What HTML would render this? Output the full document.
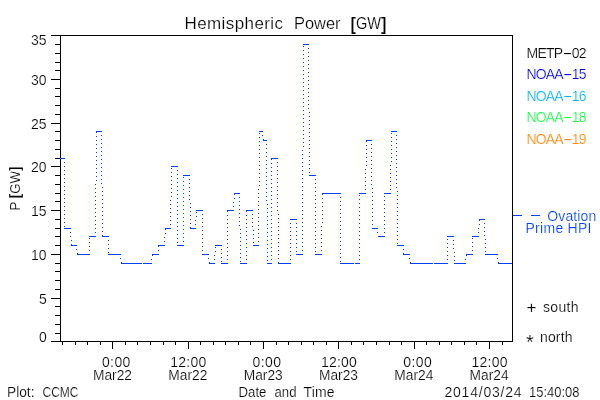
<!DOCTYPE html>
<html><head><meta charset="utf-8"><title>Hemispheric Power [GW]</title>
<style>
html,body{margin:0;padding:0;background:#fff;}
svg{display:block;font-family:"Liberation Sans",sans-serif;}
text{stroke:#fff;stroke-width:0.2px;}
</style></head>
<body>
<svg width="600" height="400" viewBox="0 0 600 400">
<rect width="600" height="400" fill="#fff"/>
<path d="M51 35h462v1h-462zM51 341h462v1h-462zM60 35h1v307h-1zM512 35h1v307h-1zM51 341h9v1h-9zM55 333h5v1h-5zM55 324h5v1h-5zM55 315h5v1h-5zM55 306h5v1h-5zM51 298h9v1h-9zM55 289h5v1h-5zM55 280h5v1h-5zM55 271h5v1h-5zM55 263h5v1h-5zM51 254h9v1h-9zM55 245h5v1h-5zM55 236h5v1h-5zM55 228h5v1h-5zM55 219h5v1h-5zM51 210h9v1h-9zM55 201h5v1h-5zM55 193h5v1h-5zM55 184h5v1h-5zM55 175h5v1h-5zM51 166h9v1h-9zM55 158h5v1h-5zM55 149h5v1h-5zM55 140h5v1h-5zM55 131h5v1h-5zM51 123h9v1h-9zM55 114h5v1h-5zM55 105h5v1h-5zM55 96h5v1h-5zM55 88h5v1h-5zM51 79h9v1h-9zM55 70h5v1h-5zM55 62h5v1h-5zM55 53h5v1h-5zM55 44h5v1h-5zM51 35h9v1h-9zM62 342h1v3h-1zM75 342h1v3h-1zM87 342h1v3h-1zM100 342h1v3h-1zM112 342h1v7h-1zM125 342h1v3h-1zM137 342h1v3h-1zM150 342h1v3h-1zM163 342h1v3h-1zM175 342h1v3h-1zM188 342h1v7h-1zM200 342h1v3h-1zM213 342h1v3h-1zM225 342h1v3h-1zM238 342h1v3h-1zM250 342h1v3h-1zM263 342h1v7h-1zM276 342h1v3h-1zM288 342h1v3h-1zM301 342h1v3h-1zM313 342h1v3h-1zM326 342h1v3h-1zM338 342h1v7h-1zM351 342h1v3h-1zM363 342h1v3h-1zM376 342h1v3h-1zM389 342h1v3h-1zM401 342h1v3h-1zM414 342h1v7h-1zM426 342h1v3h-1zM439 342h1v3h-1zM451 342h1v3h-1zM464 342h1v3h-1zM476 342h1v3h-1zM489 342h1v7h-1zM502 342h1v3h-1z" fill="#000" shape-rendering="crispEdges"/>
<path d="M60 158h5v1h-5zM64 228h7v1h-7zM64 162h1v1h-1zM64 166h1v1h-1zM64 170h1v1h-1zM64 174h1v1h-1zM64 178h1v1h-1zM64 182h1v1h-1zM64 186h1v1h-1zM64 190h1v1h-1zM64 194h1v1h-1zM64 198h1v1h-1zM64 202h1v1h-1zM64 206h1v1h-1zM64 210h1v1h-1zM64 214h1v1h-1zM64 218h1v1h-1zM64 222h1v1h-1zM64 226h1v1h-1zM71 245h6v1h-6zM70 232h1v1h-1zM70 236h1v1h-1zM71 240h1v1h-1zM71 244h1v1h-1zM77 254h13v1h-13zM76 249h1v1h-1zM77 253h1v1h-1zM89 236h7v1h-7zM89 250h1v1h-1zM89 246h1v1h-1zM89 242h1v1h-1zM89 238h1v1h-1zM96 131h6v1h-6zM95 232h1v1h-1zM95 228h1v1h-1zM95 224h1v1h-1zM95 220h1v1h-1zM95 216h1v1h-1zM95 212h1v1h-1zM95 208h1v1h-1zM95 204h1v1h-1zM95 200h1v1h-1zM95 196h1v1h-1zM95 192h1v1h-1zM95 188h1v1h-1zM95 184h1v1h-1zM96 180h1v1h-1zM96 176h1v1h-1zM96 172h1v1h-1zM96 168h1v1h-1zM96 164h1v1h-1zM96 160h1v1h-1zM96 156h1v1h-1zM96 152h1v1h-1zM96 148h1v1h-1zM96 144h1v1h-1zM96 140h1v1h-1zM96 136h1v1h-1zM96 132h1v1h-1zM102 236h7v1h-7zM101 135h1v1h-1zM101 139h1v1h-1zM101 143h1v1h-1zM101 147h1v1h-1zM101 151h1v1h-1zM101 155h1v1h-1zM101 159h1v1h-1zM101 163h1v1h-1zM101 167h1v1h-1zM101 171h1v1h-1zM101 175h1v1h-1zM101 179h1v1h-1zM101 183h1v1h-1zM102 187h1v1h-1zM102 191h1v1h-1zM102 195h1v1h-1zM102 199h1v1h-1zM102 203h1v1h-1zM102 207h1v1h-1zM102 211h1v1h-1zM102 215h1v1h-1zM102 219h1v1h-1zM102 223h1v1h-1zM102 227h1v1h-1zM102 231h1v1h-1zM102 235h1v1h-1zM108 254h13v1h-13zM108 240h1v1h-1zM108 244h1v1h-1zM108 248h1v1h-1zM108 252h1v1h-1zM121 263h21v1h-21zM120 258h1v1h-1zM121 262h1v1h-1zM143 263h9v1h-9zM152 254h7v1h-7zM151 259h1v1h-1zM152 255h1v1h-1zM158 245h7v1h-7zM158 250h1v1h-1zM158 246h1v1h-1zM165 228h6v1h-6zM164 241h1v1h-1zM164 237h1v1h-1zM165 233h1v1h-1zM165 229h1v1h-1zM171 166h7v1h-7zM170 224h1v1h-1zM170 220h1v1h-1zM170 216h1v1h-1zM170 212h1v1h-1zM170 208h1v1h-1zM170 204h1v1h-1zM170 200h1v1h-1zM171 196h1v1h-1zM171 192h1v1h-1zM171 188h1v1h-1zM171 184h1v1h-1zM171 180h1v1h-1zM171 176h1v1h-1zM171 172h1v1h-1zM171 168h1v1h-1zM177 245h7v1h-7zM177 170h1v1h-1zM177 174h1v1h-1zM177 178h1v1h-1zM177 182h1v1h-1zM177 186h1v1h-1zM177 190h1v1h-1zM177 194h1v1h-1zM177 198h1v1h-1zM177 202h1v1h-1zM177 206h1v1h-1zM177 210h1v1h-1zM177 214h1v1h-1zM177 218h1v1h-1zM177 222h1v1h-1zM177 226h1v1h-1zM177 230h1v1h-1zM177 234h1v1h-1zM177 238h1v1h-1zM177 242h1v1h-1zM183 175h7v1h-7zM183 241h1v1h-1zM183 237h1v1h-1zM183 233h1v1h-1zM183 229h1v1h-1zM183 225h1v1h-1zM183 221h1v1h-1zM183 217h1v1h-1zM183 213h1v1h-1zM183 209h1v1h-1zM183 205h1v1h-1zM183 201h1v1h-1zM183 197h1v1h-1zM183 193h1v1h-1zM183 189h1v1h-1zM183 185h1v1h-1zM183 181h1v1h-1zM183 177h1v1h-1zM190 228h6v1h-6zM189 179h1v1h-1zM189 183h1v1h-1zM189 187h1v1h-1zM189 191h1v1h-1zM189 195h1v1h-1zM189 199h1v1h-1zM190 203h1v1h-1zM190 207h1v1h-1zM190 211h1v1h-1zM190 215h1v1h-1zM190 219h1v1h-1zM190 223h1v1h-1zM190 227h1v1h-1zM196 210h7v1h-7zM195 224h1v1h-1zM195 220h1v1h-1zM196 216h1v1h-1zM196 212h1v1h-1zM202 254h7v1h-7zM202 214h1v1h-1zM202 218h1v1h-1zM202 222h1v1h-1zM202 226h1v1h-1zM202 230h1v1h-1zM202 234h1v1h-1zM202 238h1v1h-1zM202 242h1v1h-1zM202 246h1v1h-1zM202 250h1v1h-1zM209 263h6v1h-6zM208 258h1v1h-1zM209 262h1v1h-1zM215 245h7v1h-7zM214 259h1v1h-1zM214 255h1v1h-1zM215 251h1v1h-1zM215 247h1v1h-1zM221 263h7v1h-7zM221 249h1v1h-1zM221 253h1v1h-1zM221 257h1v1h-1zM221 261h1v1h-1zM227 210h7v1h-7zM227 259h1v1h-1zM227 255h1v1h-1zM227 251h1v1h-1zM227 247h1v1h-1zM227 243h1v1h-1zM227 239h1v1h-1zM227 235h1v1h-1zM227 231h1v1h-1zM227 227h1v1h-1zM227 223h1v1h-1zM227 219h1v1h-1zM227 215h1v1h-1zM227 211h1v1h-1zM234 193h6v1h-6zM233 206h1v1h-1zM233 202h1v1h-1zM234 198h1v1h-1zM234 194h1v1h-1zM240 263h7v1h-7zM239 197h1v1h-1zM239 201h1v1h-1zM239 205h1v1h-1zM239 209h1v1h-1zM239 213h1v1h-1zM239 217h1v1h-1zM239 221h1v1h-1zM239 225h1v1h-1zM240 229h1v1h-1zM240 233h1v1h-1zM240 237h1v1h-1zM240 241h1v1h-1zM240 245h1v1h-1zM240 249h1v1h-1zM240 253h1v1h-1zM240 257h1v1h-1zM240 261h1v1h-1zM246 210h7v1h-7zM246 259h1v1h-1zM246 255h1v1h-1zM246 251h1v1h-1zM246 247h1v1h-1zM246 243h1v1h-1zM246 239h1v1h-1zM246 235h1v1h-1zM246 231h1v1h-1zM246 227h1v1h-1zM246 223h1v1h-1zM246 219h1v1h-1zM246 215h1v1h-1zM246 211h1v1h-1zM253 245h6v1h-6zM252 214h1v1h-1zM252 218h1v1h-1zM252 222h1v1h-1zM252 226h1v1h-1zM253 230h1v1h-1zM253 234h1v1h-1zM253 238h1v1h-1zM253 242h1v1h-1zM259 131h4v1h-4zM258 241h1v1h-1zM258 237h1v1h-1zM258 233h1v1h-1zM258 229h1v1h-1zM258 225h1v1h-1zM258 221h1v1h-1zM258 217h1v1h-1zM258 213h1v1h-1zM258 209h1v1h-1zM258 205h1v1h-1zM258 201h1v1h-1zM258 197h1v1h-1zM258 193h1v1h-1zM258 189h1v1h-1zM259 185h1v1h-1zM259 181h1v1h-1zM259 177h1v1h-1zM259 173h1v1h-1zM259 169h1v1h-1zM259 165h1v1h-1zM259 161h1v1h-1zM259 157h1v1h-1zM259 153h1v1h-1zM259 149h1v1h-1zM259 145h1v1h-1zM259 141h1v1h-1zM259 137h1v1h-1zM259 133h1v1h-1zM263 140h4v1h-4zM262 135h1v1h-1zM263 139h1v1h-1zM267 263h5v1h-5zM266 144h1v1h-1zM266 148h1v1h-1zM266 152h1v1h-1zM266 156h1v1h-1zM266 160h1v1h-1zM266 164h1v1h-1zM266 168h1v1h-1zM266 172h1v1h-1zM266 176h1v1h-1zM266 180h1v1h-1zM266 184h1v1h-1zM266 188h1v1h-1zM266 192h1v1h-1zM266 196h1v1h-1zM266 200h1v1h-1zM267 204h1v1h-1zM267 208h1v1h-1zM267 212h1v1h-1zM267 216h1v1h-1zM267 220h1v1h-1zM267 224h1v1h-1zM267 228h1v1h-1zM267 232h1v1h-1zM267 236h1v1h-1zM267 240h1v1h-1zM267 244h1v1h-1zM267 248h1v1h-1zM267 252h1v1h-1zM267 256h1v1h-1zM267 260h1v1h-1zM271 158h7v1h-7zM271 259h1v1h-1zM271 255h1v1h-1zM271 251h1v1h-1zM271 247h1v1h-1zM271 243h1v1h-1zM271 239h1v1h-1zM271 235h1v1h-1zM271 231h1v1h-1zM271 227h1v1h-1zM271 223h1v1h-1zM271 219h1v1h-1zM271 215h1v1h-1zM271 211h1v1h-1zM271 207h1v1h-1zM271 203h1v1h-1zM271 199h1v1h-1zM271 195h1v1h-1zM271 191h1v1h-1zM271 187h1v1h-1zM271 183h1v1h-1zM271 179h1v1h-1zM271 175h1v1h-1zM271 171h1v1h-1zM271 167h1v1h-1zM271 163h1v1h-1zM271 159h1v1h-1zM278 263h13v1h-13zM277 162h1v1h-1zM277 166h1v1h-1zM277 170h1v1h-1zM277 174h1v1h-1zM277 178h1v1h-1zM277 182h1v1h-1zM277 186h1v1h-1zM277 190h1v1h-1zM277 194h1v1h-1zM277 198h1v1h-1zM277 202h1v1h-1zM277 206h1v1h-1zM277 210h1v1h-1zM278 214h1v1h-1zM278 218h1v1h-1zM278 222h1v1h-1zM278 226h1v1h-1zM278 230h1v1h-1zM278 234h1v1h-1zM278 238h1v1h-1zM278 242h1v1h-1zM278 246h1v1h-1zM278 250h1v1h-1zM278 254h1v1h-1zM278 258h1v1h-1zM278 262h1v1h-1zM290 219h7v1h-7zM290 259h1v1h-1zM290 255h1v1h-1zM290 251h1v1h-1zM290 247h1v1h-1zM290 243h1v1h-1zM290 239h1v1h-1zM290 235h1v1h-1zM290 231h1v1h-1zM290 227h1v1h-1zM290 223h1v1h-1zM296 254h7v1h-7zM296 223h1v1h-1zM296 227h1v1h-1zM296 231h1v1h-1zM296 235h1v1h-1zM296 239h1v1h-1zM296 243h1v1h-1zM296 247h1v1h-1zM296 251h1v1h-1zM303 44h6v1h-6zM302 250h1v1h-1zM302 246h1v1h-1zM302 242h1v1h-1zM302 238h1v1h-1zM302 234h1v1h-1zM302 230h1v1h-1zM302 226h1v1h-1zM302 222h1v1h-1zM302 218h1v1h-1zM302 214h1v1h-1zM302 210h1v1h-1zM302 206h1v1h-1zM302 202h1v1h-1zM302 198h1v1h-1zM302 194h1v1h-1zM302 190h1v1h-1zM302 186h1v1h-1zM302 182h1v1h-1zM302 178h1v1h-1zM302 174h1v1h-1zM302 170h1v1h-1zM302 166h1v1h-1zM302 162h1v1h-1zM302 158h1v1h-1zM302 154h1v1h-1zM302 150h1v1h-1zM303 146h1v1h-1zM303 142h1v1h-1zM303 138h1v1h-1zM303 134h1v1h-1zM303 130h1v1h-1zM303 126h1v1h-1zM303 122h1v1h-1zM303 118h1v1h-1zM303 114h1v1h-1zM303 110h1v1h-1zM303 106h1v1h-1zM303 102h1v1h-1zM303 98h1v1h-1zM303 94h1v1h-1zM303 90h1v1h-1zM303 86h1v1h-1zM303 82h1v1h-1zM303 78h1v1h-1zM303 74h1v1h-1zM303 70h1v1h-1zM303 66h1v1h-1zM303 62h1v1h-1zM303 58h1v1h-1zM303 54h1v1h-1zM303 50h1v1h-1zM303 46h1v1h-1zM309 175h7v1h-7zM308 48h1v1h-1zM308 52h1v1h-1zM308 56h1v1h-1zM308 60h1v1h-1zM308 64h1v1h-1zM308 68h1v1h-1zM308 72h1v1h-1zM308 76h1v1h-1zM308 80h1v1h-1zM308 84h1v1h-1zM308 88h1v1h-1zM308 92h1v1h-1zM308 96h1v1h-1zM308 100h1v1h-1zM308 104h1v1h-1zM308 108h1v1h-1zM309 112h1v1h-1zM309 116h1v1h-1zM309 120h1v1h-1zM309 124h1v1h-1zM309 128h1v1h-1zM309 132h1v1h-1zM309 136h1v1h-1zM309 140h1v1h-1zM309 144h1v1h-1zM309 148h1v1h-1zM309 152h1v1h-1zM309 156h1v1h-1zM309 160h1v1h-1zM309 164h1v1h-1zM309 168h1v1h-1zM309 172h1v1h-1zM315 254h7v1h-7zM315 179h1v1h-1zM315 183h1v1h-1zM315 187h1v1h-1zM315 191h1v1h-1zM315 195h1v1h-1zM315 199h1v1h-1zM315 203h1v1h-1zM315 207h1v1h-1zM315 211h1v1h-1zM315 215h1v1h-1zM315 219h1v1h-1zM315 223h1v1h-1zM315 227h1v1h-1zM315 231h1v1h-1zM315 235h1v1h-1zM315 239h1v1h-1zM315 243h1v1h-1zM315 247h1v1h-1zM315 251h1v1h-1zM322 193h19v1h-19zM321 250h1v1h-1zM321 246h1v1h-1zM321 242h1v1h-1zM321 238h1v1h-1zM321 234h1v1h-1zM321 230h1v1h-1zM321 226h1v1h-1zM322 222h1v1h-1zM322 218h1v1h-1zM322 214h1v1h-1zM322 210h1v1h-1zM322 206h1v1h-1zM322 202h1v1h-1zM322 198h1v1h-1zM322 194h1v1h-1zM340 263h14v1h-14zM340 197h1v1h-1zM340 201h1v1h-1zM340 205h1v1h-1zM340 209h1v1h-1zM340 213h1v1h-1zM340 217h1v1h-1zM340 221h1v1h-1zM340 225h1v1h-1zM340 229h1v1h-1zM340 233h1v1h-1zM340 237h1v1h-1zM340 241h1v1h-1zM340 245h1v1h-1zM340 249h1v1h-1zM340 253h1v1h-1zM340 257h1v1h-1zM340 261h1v1h-1zM355 263h5v1h-5zM359 193h7v1h-7zM359 259h1v1h-1zM359 255h1v1h-1zM359 251h1v1h-1zM359 247h1v1h-1zM359 243h1v1h-1zM359 239h1v1h-1zM359 235h1v1h-1zM359 231h1v1h-1zM359 227h1v1h-1zM359 223h1v1h-1zM359 219h1v1h-1zM359 215h1v1h-1zM359 211h1v1h-1zM359 207h1v1h-1zM359 203h1v1h-1zM359 199h1v1h-1zM359 195h1v1h-1zM366 140h6v1h-6zM365 189h1v1h-1zM365 185h1v1h-1zM365 181h1v1h-1zM365 177h1v1h-1zM365 173h1v1h-1zM365 169h1v1h-1zM366 165h1v1h-1zM366 161h1v1h-1zM366 157h1v1h-1zM366 153h1v1h-1zM366 149h1v1h-1zM366 145h1v1h-1zM366 141h1v1h-1zM372 228h6v1h-6zM371 144h1v1h-1zM371 148h1v1h-1zM371 152h1v1h-1zM371 156h1v1h-1zM371 160h1v1h-1zM371 164h1v1h-1zM371 168h1v1h-1zM371 172h1v1h-1zM371 176h1v1h-1zM371 180h1v1h-1zM371 184h1v1h-1zM372 188h1v1h-1zM372 192h1v1h-1zM372 196h1v1h-1zM372 200h1v1h-1zM372 204h1v1h-1zM372 208h1v1h-1zM372 212h1v1h-1zM372 216h1v1h-1zM372 220h1v1h-1zM372 224h1v1h-1zM378 236h7v1h-7zM377 232h1v1h-1zM384 193h7v1h-7zM384 232h1v1h-1zM384 228h1v1h-1zM384 224h1v1h-1zM384 220h1v1h-1zM384 216h1v1h-1zM384 212h1v1h-1zM384 208h1v1h-1zM384 204h1v1h-1zM384 200h1v1h-1zM384 196h1v1h-1zM391 131h6v1h-6zM390 189h1v1h-1zM390 185h1v1h-1zM390 181h1v1h-1zM390 177h1v1h-1zM390 173h1v1h-1zM390 169h1v1h-1zM390 165h1v1h-1zM391 161h1v1h-1zM391 157h1v1h-1zM391 153h1v1h-1zM391 149h1v1h-1zM391 145h1v1h-1zM391 141h1v1h-1zM391 137h1v1h-1zM391 133h1v1h-1zM397 245h7v1h-7zM396 135h1v1h-1zM396 139h1v1h-1zM396 143h1v1h-1zM396 147h1v1h-1zM396 151h1v1h-1zM396 155h1v1h-1zM396 159h1v1h-1zM396 163h1v1h-1zM396 167h1v1h-1zM396 171h1v1h-1zM396 175h1v1h-1zM396 179h1v1h-1zM396 183h1v1h-1zM396 187h1v1h-1zM397 191h1v1h-1zM397 195h1v1h-1zM397 199h1v1h-1zM397 203h1v1h-1zM397 207h1v1h-1zM397 211h1v1h-1zM397 215h1v1h-1zM397 219h1v1h-1zM397 223h1v1h-1zM397 227h1v1h-1zM397 231h1v1h-1zM397 235h1v1h-1zM397 239h1v1h-1zM397 243h1v1h-1zM403 254h7v1h-7zM403 249h1v1h-1zM403 253h1v1h-1zM410 263h23v1h-23zM409 258h1v1h-1zM410 262h1v1h-1zM434 263h14v1h-14zM447 236h7v1h-7zM447 259h1v1h-1zM447 255h1v1h-1zM447 251h1v1h-1zM447 247h1v1h-1zM447 243h1v1h-1zM447 239h1v1h-1zM454 263h12v1h-12zM453 240h1v1h-1zM453 244h1v1h-1zM453 248h1v1h-1zM454 252h1v1h-1zM454 256h1v1h-1zM454 260h1v1h-1zM466 254h7v1h-7zM465 259h1v1h-1zM466 255h1v1h-1zM472 236h7v1h-7zM472 250h1v1h-1zM472 246h1v1h-1zM472 242h1v1h-1zM472 238h1v1h-1zM479 219h6v1h-6zM478 232h1v1h-1zM478 228h1v1h-1zM479 224h1v1h-1zM479 220h1v1h-1zM485 254h13v1h-13zM484 223h1v1h-1zM484 227h1v1h-1zM484 231h1v1h-1zM484 235h1v1h-1zM485 239h1v1h-1zM485 243h1v1h-1zM485 247h1v1h-1zM485 251h1v1h-1zM498 263h14v1h-14zM497 258h1v1h-1zM498 262h1v1h-1zM513 215h9v1h-9zM531 215h9v1h-9z" fill="#0040f0" shape-rendering="crispEdges"/>
<text x="184.5" y="29" font-size="17" fill="#000" text-anchor="start" textLength="98.5" lengthAdjust="spacing">Hemispheric</text>
<text x="294" y="29" font-size="17" fill="#000" text-anchor="start" textLength="46.5" lengthAdjust="spacingAndGlyphs">Power</text>
<text x="350.5" y="29" font-size="17" fill="#000" text-anchor="start" textLength="36" lengthAdjust="spacingAndGlyphs"><tspan font-weight="bold" font-size="19" dy="1">[</tspan><tspan dy="-1">GW</tspan><tspan font-weight="bold" font-size="19" dy="1">]</tspan></text>
<text x="39" y="342" font-size="14" fill="#000" text-anchor="start">0</text>
<text x="39" y="303.5" font-size="14" fill="#000" text-anchor="start">5</text>
<text x="31" y="259.5" font-size="14" fill="#000" text-anchor="start" textLength="15.5" lengthAdjust="spacing">10</text>
<text x="31" y="215.5" font-size="14" fill="#000" text-anchor="start" textLength="15.5" lengthAdjust="spacing">15</text>
<text x="31" y="171.5" font-size="14" fill="#000" text-anchor="start" textLength="15.5" lengthAdjust="spacing">20</text>
<text x="31" y="128.5" font-size="14" fill="#000" text-anchor="start" textLength="15.5" lengthAdjust="spacing">25</text>
<text x="31" y="84.5" font-size="14" fill="#000" text-anchor="start" textLength="15.5" lengthAdjust="spacing">30</text>
<text x="31" y="45" font-size="14" fill="#000" text-anchor="start" textLength="15.5" lengthAdjust="spacing">35</text>
<text transform="translate(20,210.5) rotate(-90)" font-size="14" textLength="44" lengthAdjust="spacingAndGlyphs">P <tspan font-weight="bold">[</tspan>GW<tspan font-weight="bold">]</tspan></text>
<text x="101.9" y="367" font-size="14" fill="#000" text-anchor="start" textLength="28.5" lengthAdjust="spacing">0:00</text>
<text x="93.0" y="380" font-size="14" fill="#000" text-anchor="start" textLength="39" lengthAdjust="spacingAndGlyphs">Mar22</text>
<text x="170.2" y="367" font-size="14" fill="#000" text-anchor="start" textLength="36" lengthAdjust="spacing">12:00</text>
<text x="168.3" y="380" font-size="14" fill="#000" text-anchor="start" textLength="39" lengthAdjust="spacingAndGlyphs">Mar22</text>
<text x="252.6" y="367" font-size="14" fill="#000" text-anchor="start" textLength="28.5" lengthAdjust="spacing">0:00</text>
<text x="243.7" y="380" font-size="14" fill="#000" text-anchor="start" textLength="39" lengthAdjust="spacingAndGlyphs">Mar23</text>
<text x="320.9" y="367" font-size="14" fill="#000" text-anchor="start" textLength="36" lengthAdjust="spacing">12:00</text>
<text x="319.0" y="380" font-size="14" fill="#000" text-anchor="start" textLength="39" lengthAdjust="spacingAndGlyphs">Mar23</text>
<text x="403.2" y="367" font-size="14" fill="#000" text-anchor="start" textLength="28.5" lengthAdjust="spacing">0:00</text>
<text x="394.3" y="380" font-size="14" fill="#000" text-anchor="start" textLength="39" lengthAdjust="spacingAndGlyphs">Mar24</text>
<text x="471.5" y="367" font-size="14" fill="#000" text-anchor="start" textLength="36" lengthAdjust="spacing">12:00</text>
<text x="469.6" y="380" font-size="14" fill="#000" text-anchor="start" textLength="39" lengthAdjust="spacingAndGlyphs">Mar24</text>
<text x="7" y="396.5" font-size="14" fill="#000" text-anchor="start" textLength="27.5" lengthAdjust="spacingAndGlyphs">Plot:</text>
<text x="42.5" y="396.5" font-size="14" fill="#000" text-anchor="start" textLength="36" lengthAdjust="spacingAndGlyphs">CCMC</text>
<text x="238.5" y="396.5" font-size="14" fill="#000" text-anchor="start" textLength="28" lengthAdjust="spacingAndGlyphs">Date</text>
<text x="274.5" y="396.5" font-size="14" fill="#000" text-anchor="start" textLength="22" lengthAdjust="spacingAndGlyphs">and</text>
<text x="303.5" y="396.5" font-size="14" fill="#000" text-anchor="start" textLength="31" lengthAdjust="spacing">Time</text>
<text x="444.5" y="396.5" font-size="14" fill="#000" text-anchor="start" textLength="77" lengthAdjust="spacing">2014/03/24</text>
<text x="529" y="396.5" font-size="14" fill="#000" text-anchor="start" textLength="50.5" lengthAdjust="spacingAndGlyphs">15:40:08</text>
<text x="526.5" y="57.5" font-size="14" fill="#000" text-anchor="start" textLength="60" lengthAdjust="spacing">METP<tspan textLength="10" lengthAdjust="spacingAndGlyphs">-</tspan>02</text>
<text x="526.5" y="79" font-size="14" fill="#0000e0" text-anchor="start" textLength="60" lengthAdjust="spacing">NOAA<tspan textLength="10" lengthAdjust="spacingAndGlyphs">-</tspan>15</text>
<text x="526.5" y="100.5" font-size="14" fill="#00b0ff" text-anchor="start" textLength="60" lengthAdjust="spacing">NOAA<tspan textLength="10" lengthAdjust="spacingAndGlyphs">-</tspan>16</text>
<text x="526.5" y="122" font-size="14" fill="#14fa46" text-anchor="start" textLength="60" lengthAdjust="spacing">NOAA<tspan textLength="10" lengthAdjust="spacingAndGlyphs">-</tspan>18</text>
<text x="526.5" y="143.5" font-size="14" fill="#ff8400" text-anchor="start" textLength="60" lengthAdjust="spacing">NOAA<tspan textLength="10" lengthAdjust="spacingAndGlyphs">-</tspan>19</text>
<text x="547.3" y="220.5" font-size="14" fill="#0040f0" text-anchor="start" textLength="49" lengthAdjust="spacing">Ovation</text>
<text x="525.5" y="232.5" font-size="14" fill="#0040f0" text-anchor="start" textLength="66" lengthAdjust="spacing">Prime HPI</text>
<text x="526.5" y="312" font-size="14"><tspan font-size="17" y="312.5">+</tspan> <tspan x="543" y="312" textLength="35.5">south</tspan></text>
<text x="526" y="342" font-size="14"><tspan font-size="20" y="349">*</tspan> <tspan x="540" y="342" textLength="32.5">north</tspan></text>
</svg>
</body></html>
